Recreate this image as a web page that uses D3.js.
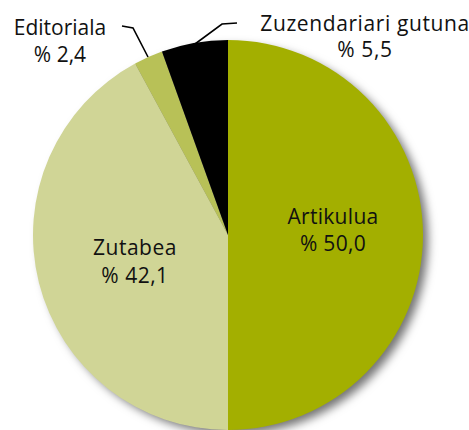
<!DOCTYPE html>
<html><head><meta charset="utf-8">
<script src="https://cdn.jsdelivr.net/npm/d3@7"></script>
<style>html,body{margin:0;padding:0;background:#fff}svg{display:block}</style>
</head><body>
<svg id="c" width="469" height="430"></svg>
<script>
const categories = ["Artikulua", "Zutabea", "Editoriala", "Zuzendariari gutuna"];
const values = [50.0, 42.1, 2.4, 5.5];
const valueLabels = ["% 50,0", "% 42,1", "% 2,4", "% 5,5"];
const colors = ["#a3af00", "#d0d596", "#b8c157", "#000000"];

const svg = d3.select("#c");
const cx = 228, cy = 235, r = 195;
const defs = svg.append("defs");
const f = defs.append("filter").attr("id","sh").attr("x","-20%").attr("y","-20%").attr("width","140%").attr("height","140%");
f.append("feDropShadow").attr("dx",6).attr("dy",5).attr("stdDeviation",5).attr("flood-color","#000").attr("flood-opacity",0.55);

const pie = d3.pie().sort(null).value(d => d);
const arcs = pie(values);
const arc = d3.arc().innerRadius(0).outerRadius(r);
const g = svg.append("g").attr("transform", `translate(${cx},${cy})`);
g.append("circle").attr("r", r-1).attr("fill","#888").attr("filter","url(#sh)");
g.selectAll("path").data(arcs).join("path")
  .attr("d", arc).attr("fill", (d,i) => colors[i]);

const font = "'Open Sans', sans-serif";
function label(x, y1, y2, i, ls) {
  const t = svg.append("text").attr("text-anchor","middle").attr("font-family",font)
    .attr("font-size",21).attr("fill","#111").attr("letter-spacing", ls || 0);
  t.append("tspan").attr("x",x).attr("y",y1).text(categories[i]);
  t.append("tspan").attr("x",x).attr("y",y2).text(valueLabels[i]);
}
label(333, 224, 251, 0, 0.3);
label(135, 255, 283, 1, 0.5);
label(60, 35, 62, 2, 0);
label(365, 31, 57, 3, 0.6);

const line = d3.line();
svg.append("path").attr("d", line([[122,26],[133,28],[148,57]])).attr("fill","none").attr("stroke","#000").attr("stroke-width",1.6);
svg.append("path").attr("d", line([[237,23],[222,24],[195,44]])).attr("fill","none").attr("stroke","#000").attr("stroke-width",1.6);
</script>
</body></html>
